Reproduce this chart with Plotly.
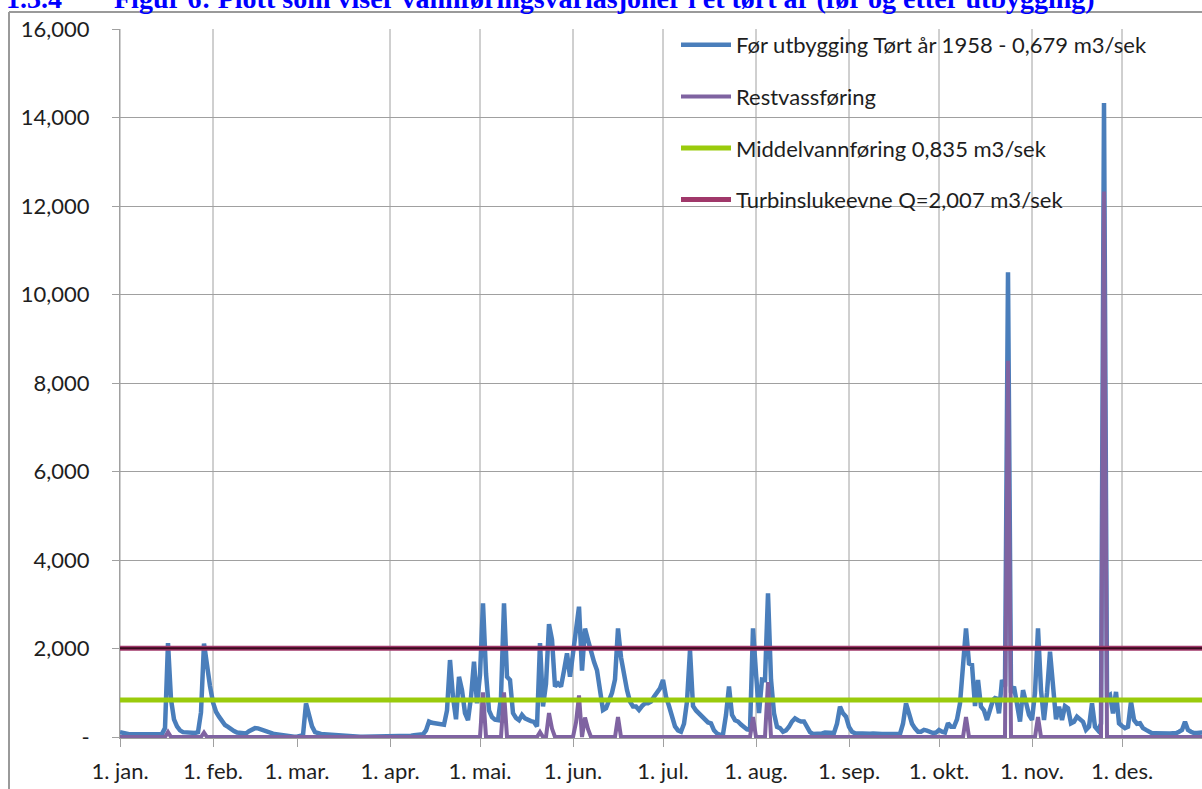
import pandas as pd
import plotly.graph_objects as go

YEAR_START = "1958-01-01"

# Daily flow before development, dry year 1958, month by month
jan = [110, 90, 75, 65, 60, 60, 55, 55, 60, 60, 75, 70, 60, 60, 70, 200, 2120, 850, 400, 240,
       150, 110, 100, 95, 90, 90, 110, 560, 2110, 1600, 1150]
feb = [780, 570, 460, 350, 270, 230, 170, 135, 100, 85, 75, 80, 130, 180, 200, 195, 170, 140,
       110, 90, 75, 65, 55, 40, 20, 10, 5, 5]
mar = [5, 10, 40, 760, 460, 240, 110, 80, 70, 65, 60, 60, 55, 50, 40, 20, 10, 5, 5, 5, 5, 5, 5,
       5, 5, 5, 5, 5, 5, 5, 5]
apr = [5, 5, 5, 5, 5, 5, 5, 30, 40, 45, 50, 60, 150, 350, 320, 310, 300, 290, 280, 600, 1740,
       900, 400, 1360, 1060, 540, 380, 900, 1700, 760]
mai = [1400, 3020, 1440, 600, 450, 390, 380, 900, 3020, 1360, 1290, 540, 430, 380, 500, 420, 380,
       360, 340, 240, 2120, 690, 1200, 2550, 2200, 1140, 1210, 1140, 1500, 1890, 1360]
jun = [1850, 2340, 2945, 1500, 2450, 2190, 1890, 1700, 1510, 990, 610, 650, 800, 1000, 1300, 2455,
       1800, 1400, 1060, 800, 690, 690, 610, 700, 760, 760, 800, 910, 990, 1100]
jul = [1290, 910, 700, 500, 240, 150, 120, 300, 800, 1965, 700, 600, 530, 450, 380, 330, 310, 150,
       80, 50, 60, 500, 1140, 500, 380, 350, 280, 230, 170, 160, 2455]
aug = [1440, 540, 1300, 1290, 3245, 1300, 540, 230, 200, 120, 150, 230, 350, 420, 380, 350, 350,
       200, 110, 70, 70, 80, 80, 100, 100, 100, 90, 300, 685, 535, 460]
sep = [230, 120, 85, 80, 70, 70, 70, 75, 80, 70, 65, 70, 70, 75, 70, 65, 70, 70, 300, 760, 535,
       300, 195, 120, 120, 160, 145, 110, 90, 100]
okt = [160, 120, 100, 310, 230, 230, 400, 760, 1660, 2455, 1660, 1630, 700, 1290, 685, 600, 385,
       600, 835, 900, 535, 1290, 1140, 10500, 1000, 1140, 760, 350, 1060, 800, 500]
nov = [385, 1000, 2455, 1060, 385, 1000, 1930, 990, 400, 685, 385, 700, 650, 310, 345, 460, 400,
       345, 160, 230, 760, 230, 150, 300, 14330, 900, 950, 535, 1020, 310]
des = [250, 200, 230, 800, 385, 300, 310, 200, 160, 120, 85, 85, 80, 80, 80, 80, 80, 85, 85, 120,
       160, 345, 160, 120, 90, 90, 100, 100, 110, 100, 90]

# Residual flow: non-zero days (day-of-year index) and values
rest_days = [16, 28, 121, 128, 140, 143, 144, 152, 153, 155, 156, 166, 211, 216, 282, 296, 306, 328]
rest_values = [110, 100, 1010, 1010, 110, 540, 190, 330, 940, 440, 180, 450, 450, 1240, 450,
               8500, 450, 12330]

mean_flow = 835
turbine_capacity = 2007

series_names = [
    "Før utbygging Tørt år 1958 - 0,679 m3/sek",
    "Restvassføring",
    "Middelvannføring 0,835 m3/sek",
    "Turbinslukeevne Q=2,007 m3/sek",
]
month_labels = ["1. jan.", "1. feb.", "1. mar.", "1. apr.", "1. mai.", "1. jun.", "1. jul.",
                "1. aug.", "1. sep.", "1. okt.", "1. nov.", "1. des."]
y_tick_values = [0, 2000, 4000, 6000, 8000, 10000, 12000, 14000, 16000]
y_tick_labels = ["-", "2,000", "4,000", "6,000", "8,000", "10,000", "12,000", "14,000", "16,000"]

title_number = "1.3.4"
title_text = "Figur 6: Plott som viser vannføringsvariasjoner i et tørt år (før og etter utbygging)"

# ---------------------------------------------------------------------------
blue = jan + feb + mar + apr + mai + jun + jul + aug + sep + okt + nov + des
dates = pd.date_range(YEAR_START, periods=len(blue), freq="D")
rest = [0] * len(blue)
for d, v in zip(rest_days, rest_values):
    rest[d] = v

month_ticks = pd.date_range(YEAR_START, periods=12, freq="MS")
grid_months = [m for m in month_ticks if m.month != 3]

W, H = 1202, 789
L, T, R = 120, 29, 0
ZERO_PX = 737
PLOT_BOTTOM = 738
B = H - PLOT_BOTTOM
units_per_px = 16000 / (ZERO_PX - T)
y_min = -(PLOT_BOTTOM - ZERO_PX) * units_per_px
plot_w = W - L - R
plot_h = PLOT_BOTTOM - T
x_end = pd.Timestamp(YEAR_START) + pd.Timedelta(days=plot_w / 3.0)


def px_x(px):
    return (px - L) / plot_w


def px_y(py):
    return (PLOT_BOTTOM - py) / plot_h


FONT = "Lato"
TXT = "#1e1e1e"
GRID = "#a0a0a0"

fig = go.Figure()
fig.add_trace(go.Scatter(x=dates, y=blue, mode="lines", name=series_names[0], legendgroup="a",
                         line=dict(color="#4A7EBB", width=4.5)))
fig.add_trace(go.Scatter(x=dates, y=rest, mode="lines", name=series_names[1], legendgroup="b",
                         line=dict(color="#7F63A1", width=4)))
fig.add_trace(go.Scatter(x=[dates[0], dates[-1]], y=[mean_flow, mean_flow], mode="lines",
                         name=series_names[2], legendgroup="c",
                         line=dict(color="#9ACB0C", width=5)))
fig.add_trace(go.Scatter(x=[dates[0], dates[-1]], y=[turbine_capacity, turbine_capacity],
                         mode="lines", name=series_names[3], legendgroup="d",
                         line=dict(color="#A0386A", width=5)))
fig.add_trace(go.Scatter(x=[dates[0], dates[-1]], y=[turbine_capacity, turbine_capacity],
                         mode="lines", showlegend=False, legendgroup="e", hoverinfo="skip",
                         line=dict(color="#3A0A1E", width=2)))

shapes = []
for m in grid_months:
    shapes.append(dict(type="line", xref="x", yref="paper", x0=m, x1=m, y0=0, y1=1,
                       line=dict(color=GRID, width=1), layer="below"))
# outer frame (left and top edges)
shapes.append(dict(type="line", xref="paper", yref="paper", x0=px_x(9), x1=px_x(9),
                   y0=px_y(12), y1=px_y(800), line=dict(color="#9a9a9a", width=2)))
shapes.append(dict(type="line", xref="paper", yref="paper", x0=px_x(9), x1=px_x(1210),
                   y0=px_y(12), y1=px_y(12), line=dict(color="#9a9a9a", width=2)))

title_font = dict(family="Liberation Serif", size=28, color="#0000FF", weight="bold")
annotations = [
    dict(text=title_number, xref="paper", yref="paper", x=px_x(4), y=px_y(16),
         xanchor="left", yanchor="bottom", showarrow=False, font=title_font),
    dict(text=title_text, xref="paper", yref="paper", x=px_x(112), y=px_y(16),
         xanchor="left", yanchor="bottom", showarrow=False, font=title_font),
]

fig.update_layout(
    width=W, height=H,
    margin=dict(l=L, r=R, t=T, b=B, pad=0),
    paper_bgcolor="white", plot_bgcolor="white",
    font=dict(family=FONT, size=22, color=TXT),
    showlegend=True,
    legend=dict(x=px_x(676), y=px_y(24), xanchor="left", yanchor="top",
                bgcolor="rgba(0,0,0,0)", borderwidth=0, tracegroupgap=20, itemwidth=50,
                font=dict(family=FONT, size=22, color=TXT), traceorder="grouped"),
    xaxis=dict(type="date", range=[dates[0], x_end], showgrid=False,
               tickvals=list(month_ticks), ticktext=month_labels,
               ticks="outside", ticklen=8, tickcolor=GRID, tickwidth=1,
               showline=True, linecolor=GRID, linewidth=1,
               tickfont=dict(family=FONT, size=22, color=TXT), ticklabelstandoff=6,
               zeroline=False),
    yaxis=dict(range=[y_min, 16000], tickvals=y_tick_values, ticktext=y_tick_labels,
               showgrid=True, gridcolor=GRID, gridwidth=1,
               ticks="outside", ticklen=7, tickcolor=GRID, tickwidth=1,
               showline=True, linecolor=GRID, linewidth=1, zeroline=False,
               tickfont=dict(family=FONT, size=22, color=TXT), ticklabelstandoff=18),
    shapes=shapes,
    annotations=annotations,
)

fig.write_html("out.html", config={"displayModeBar": False},
               post_script="document.body.style.margin='0';")
